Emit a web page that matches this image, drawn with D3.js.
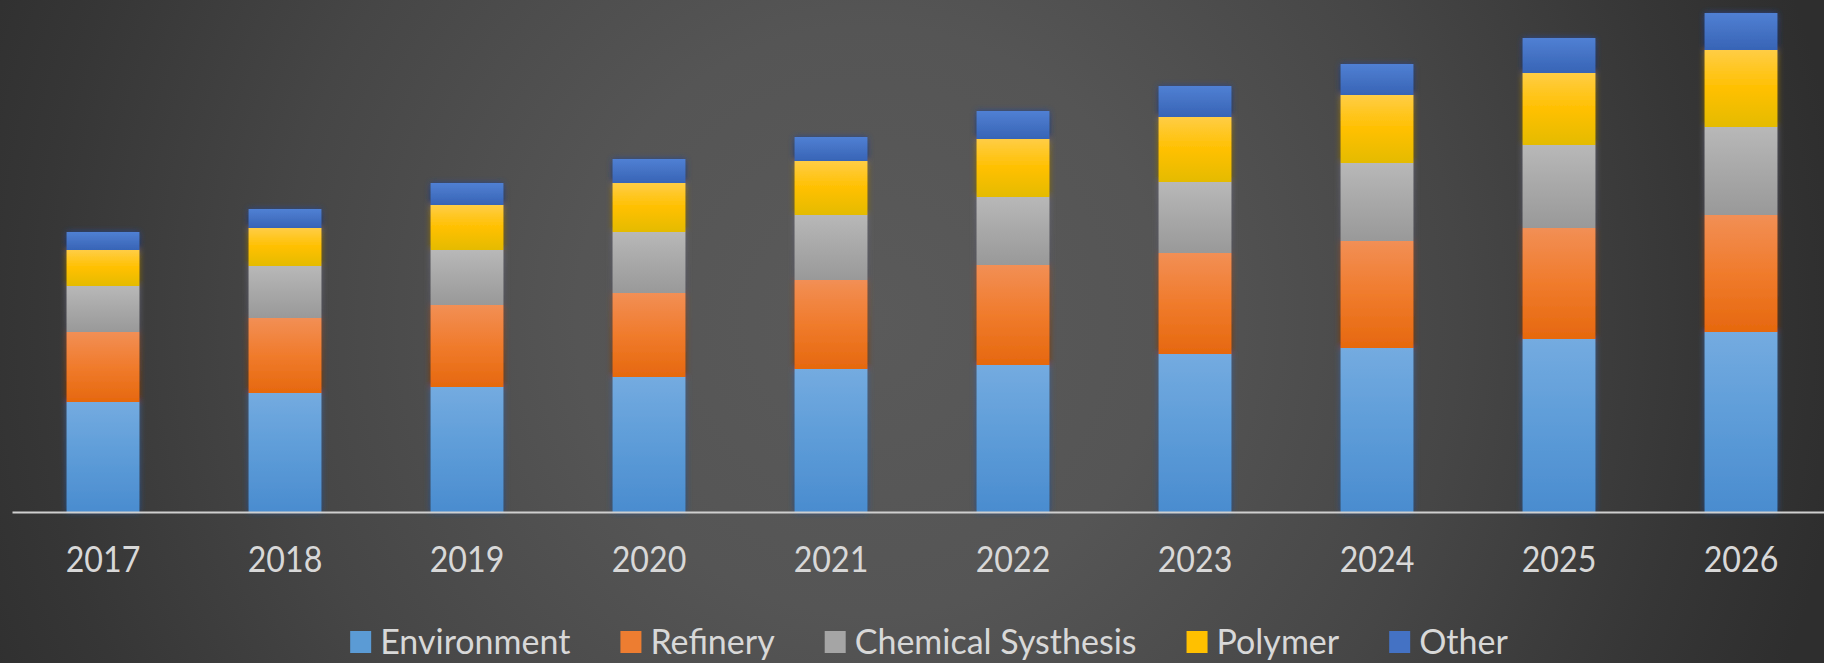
<!DOCTYPE html>
<html>
<head>
<meta charset="utf-8">
<script src="https://cdn.jsdelivr.net/npm/d3@7"></script>
<style>
  html, body { margin: 0; padding: 0; background: #3a3a3a; overflow: hidden; }
  svg { display: block; }
</style>
</head>
<body>
<svg id="chart" width="1824" height="663"></svg>
<script>
// Market by application, 2017–2026 (stacked)
const years = ["2017", "2018", "2019", "2020", "2021", "2022", "2023", "2024", "2025", "2026"];
const environment       = [110, 119, 125, 135, 143, 147, 158, 164, 173, 180];
const refinery          = [70, 75, 82, 84, 89, 100, 101, 107, 111, 117];
const chemicalSynthesis = [46, 52, 55, 61, 65, 68, 71, 78, 83, 88];
const polymer           = [36, 38, 45, 49, 54, 58, 65, 68, 72, 77];
const other             = [18, 19, 22, 24, 24, 28, 31, 31, 35, 37];
const seriesNames = ["Environment", "Refinery", "Chemical Systhesis", "Polymer", "Other"];

// fill gradients for each series: top, middle, bottom
const seriesShades = [
  ["#74abe0", "#5d9cd8", "#4a8ccf"],
  ["#f28f55", "#f07b2c", "#e6680e"],
  ["#b8b8b8", "#a8a8a8", "#999999"],
  ["#ffcd45", "#ffc000", "#e4bb00"],
  ["#5080d4", "#4472c4", "#3764b6"]
];
const legendSwatch = ["#5b9bd5", "#ed7d31", "#a5a5a5", "#ffc000", "#4472c4"];

const W = 1824, H = 663;
const baseY = 512;

const svg = d3.select("#chart");
const defs = svg.append("defs");

// background: soft radial vignette
const bg = defs.append("radialGradient")
  .attr("id", "bg").attr("gradientUnits", "userSpaceOnUse")
  .attr("cx", 870).attr("cy", 320).attr("r", 980);
[[0, "#5a5a5a"], [0.3, "#555555"], [0.6, "#464646"], [0.85, "#363636"], [1, "#2e2e2e"]]
  .forEach(([o, c]) => bg.append("stop").attr("offset", o).attr("stop-color", c));
svg.append("rect").attr("width", W).attr("height", H).attr("fill", "url(#bg)");

seriesShades.forEach((s, i) => {
  const g = defs.append("linearGradient").attr("id", "fill" + i)
    .attr("x1", 0).attr("y1", 0).attr("x2", 0).attr("y2", 1);
  g.append("stop").attr("offset", 0).attr("stop-color", s[0]);
  g.append("stop").attr("offset", 0.5).attr("stop-color", s[1]);
  g.append("stop").attr("offset", 1).attr("stop-color", s[2]);
});

// dark glow behind the bars
const glow = defs.append("filter").attr("id", "glow")
  .attr("x", "-20%").attr("y", "-10%").attr("width", "140%").attr("height", "120%");
glow.append("feGaussianBlur").attr("in", "SourceGraphic").attr("stdDeviation", 3).attr("result", "b");
const ct = glow.append("feComponentTransfer").attr("in", "b").attr("result", "d");
ct.append("feFuncR").attr("type", "linear").attr("slope", 0.3);
ct.append("feFuncG").attr("type", "linear").attr("slope", 0.3);
ct.append("feFuncB").attr("type", "linear").attr("slope", 0.42);
const mg = glow.append("feMerge");
mg.append("feMergeNode").attr("in", "d");
mg.append("feMergeNode").attr("in", "SourceGraphic");

const rows = years.map((y, i) => ({
  year: y,
  "Environment": environment[i],
  "Refinery": refinery[i],
  "Chemical Systhesis": chemicalSynthesis[i],
  "Polymer": polymer[i],
  "Other": other[i]
}));
const stacked = d3.stack().keys(seriesNames)(rows);

const x = d3.scaleBand().domain(years).range([12, 1832]).paddingInner(0.6).paddingOuter(0.3);
const y = d3.scaleLinear().domain([0, 500]).range([baseY, 12]);

const barGroups = svg.append("g").selectAll("g.bar")
  .data(years).join("g").attr("class", "bar").attr("filter", "url(#glow)");

barGroups.each(function(yr, yi) {
  d3.select(this).selectAll("rect")
    .data(stacked.map((s, si) => ({ si, d: s[yi] })))
    .join("rect")
    .attr("x", x(yr))
    .attr("width", x.bandwidth())
    .attr("y", d => y(d.d[1]))
    .attr("height", d => y(d.d[0]) - y(d.d[1]))
    .attr("fill", d => `url(#fill${d.si})`);
});

// category axis
const axis = svg.append("g").attr("transform", `translate(0,${baseY})`)
  .call(d3.axisBottom(x).tickSize(0).tickPadding(0));
axis.select(".domain").attr("stroke", "#cfcfcf").attr("stroke-width", 2.2);
axis.selectAll(".tick text")
  .attr("y", 60).attr("dy", 0)
  .attr("fill", "#d8d8d8")
  .style("font-family", "Lato, 'Open Sans', sans-serif")
  .style("font-size", "37px")
  .attr("transform", "scale(0.87,1)");

// legend
const legend = svg.append("g");
let cursor = 0;
seriesNames.forEach((name, i) => {
  const g = legend.append("g");
  g.append("rect").attr("x", 0).attr("y", -23).attr("width", 21).attr("height", 22)
    .attr("fill", legendSwatch[i]);
  const t = g.append("text").attr("x", 30).attr("y", 0)
    .attr("fill", "#d8d8d8")
    .style("font-family", "Lato, 'Open Sans', sans-serif")
    .style("font-size", "34px")
    .text(name);
  const w = 30 + t.node().getComputedTextLength();
  g.attr("transform", `translate(${cursor},0)`);
  cursor += w + 50;
});
const legendWidth = cursor - 50;
legend.attr("transform", `translate(${929 - legendWidth / 2},654)`);
</script>
</body>
</html>
